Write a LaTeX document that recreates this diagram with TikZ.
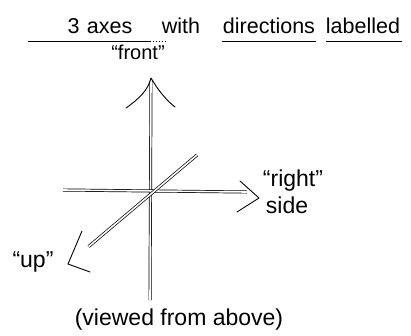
\documentclass[tikz,border=0pt]{standalone}
\usepackage{fontspec}
\setmainfont{Liberation Sans}
\usepackage{tikz}
\usetikzlibrary{arrows.meta, positioning, calc}

\begin{document}
\begin{tikzpicture}[
    x=1pt, y=-1pt,
    axis/.style={draw=black, double=white, line width=0.7pt, double distance=1.6pt},
    head/.style={draw=black, line width=0.9pt, line cap=round, line join=round},
    uline/.style={draw=black, line width=0.9pt},
    label/.style={inner sep=0pt, font=\fontsize{23}{24}\selectfont},
    word/.style={inner sep=0pt, anchor=base, font=\fontsize{21.5}{24}\selectfont}
]
\useasboundingbox (0,0) rectangle (411,335);

% title
\node[word] (taxes) at (100,33) {3\,\,axes};
\node[word] (twith) at (181,33) {with};
\node[word] (tdirections) at (269,33) {directions};
\node[word] (tlabelled) at (363,33) {labelled};
\draw[uline] (28,41) -- (150,41);
\draw[uline, dotted] (150,41) -- (166,41);
\draw[uline] ($(tdirections.base west)+(-1,8)$) -- ($(tdirections.base east)+(1,8)$);
\draw[uline] ($(tlabelled.base west)+(0,8)$) -- ($(tlabelled.base east)+(2,8)$);

% labels
\node[label, font=\fontsize{20}{22}\selectfont] (front) at (138,52) {``front''};
\node[label] (right) at (293,181) {``right''};
\node[label, below=5pt of right.south, anchor=north, xshift=-6pt] (side) {side};
\node[label] (up) at (33,262) {``up''};
\node[label] (viewed) at (179,320) {(viewed from above)};

% axes
\coordinate (o) at (151,191);
\coordinate (ftip) at (151,78);
\coordinate (fend) at (150,300);
\coordinate (rtip) at (259,198);
\coordinate (rend) at (63,190);
\coordinate (utip) at (68,264);
\coordinate (uend) at (197,155);

\draw[axis] (fend) -- ($(ftip)+(0,3)$);
\draw[axis] (rend) -- ($(rtip)+(-12,-6)$);
\draw[axis] (uend) -- ($(utip)!0.16!(uend)$);

% arrow heads
\draw[head] (126,108) .. controls (140,98) and (148,90) .. (ftip) .. controls (158,90) and (166,100) .. (175,107);
\draw[head] (240,181) -- (rtip) -- (237,212);
\draw[head] (82,231) -- (utip) -- (90,272);

\end{tikzpicture}
\end{document}
